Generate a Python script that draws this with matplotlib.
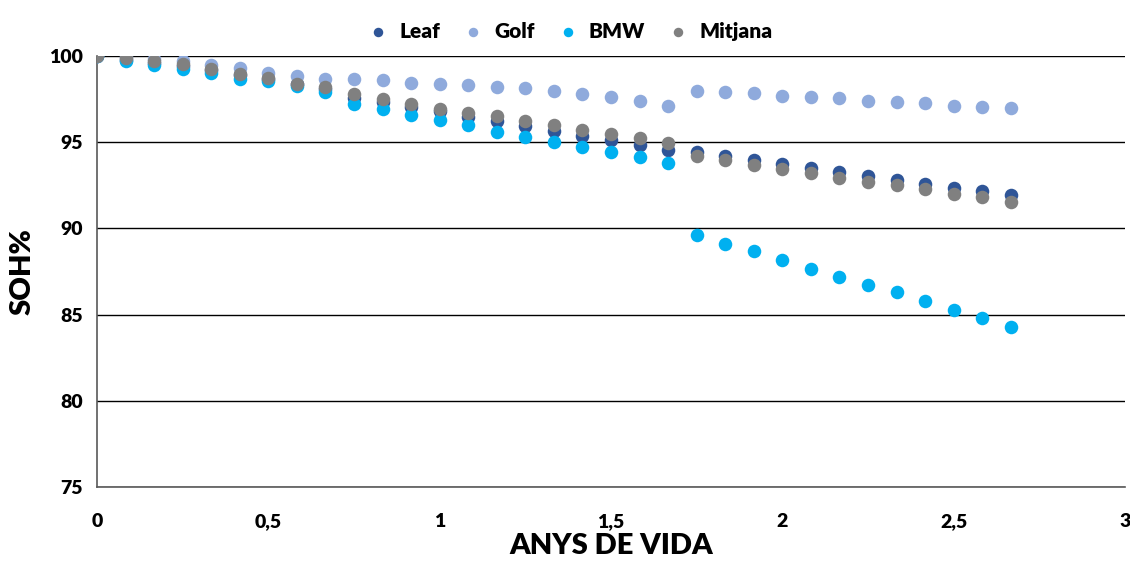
import numpy as np
import matplotlib.pyplot as plt
from matplotlib.ticker import FuncFormatter

# mesos 0..32 -> anys
mesos = np.arange(33)
anys = mesos / 12

leaf = [100, 99.80, 99.62, 99.42, 99.17, 98.88, 98.68, 98.36, 98.12, 97.56,
        97.35, 97.06, 96.81, 96.48, 96.23, 95.94, 95.65, 95.38, 95.13, 94.84,
        94.55, 94.41, 94.18, 93.97, 93.76, 93.50, 93.27, 93.04, 92.80, 92.60,
        92.36, 92.15, 91.94]
golf = [100, 99.95, 99.83, 99.73, 99.48, 99.29, 99.03, 98.86, 98.65, 98.67,
        98.59, 98.45, 98.38, 98.30, 98.22, 98.14, 97.99, 97.78, 97.64, 97.41,
        97.12, 97.99, 97.91, 97.85, 97.70, 97.62, 97.55, 97.41, 97.33, 97.26,
        97.12, 97.04, 96.97]
bmw = [100, 99.73, 99.48, 99.23, 99.03, 98.70, 98.53, 98.27, 97.93, 97.25,
       96.94, 96.58, 96.29, 95.98, 95.60, 95.30, 95.00, 94.70, 94.41, 94.12,
       93.78, 89.63, 89.11, 88.67, 88.15, 87.63, 87.18, 86.73, 86.30, 85.77,
       85.25, 84.80, 84.28]
mitjana = [100, 99.87, 99.71, 99.52, 99.26, 98.97, 98.76, 98.41, 98.22, 97.79,
           97.49, 97.20, 96.96, 96.73, 96.52, 96.23, 96.00, 95.71, 95.48, 95.24,
           94.95, 94.20, 94.00, 93.70, 93.45, 93.23, 92.94, 92.71, 92.50, 92.27,
           91.98, 91.82, 91.51]

series = [('Leaf', leaf, '#2F5597'), ('Golf', golf, '#8FAADC'),
          ('BMW', bmw, '#00B0F0'), ('Mitjana', mitjana, '#808080')]

plt.rcParams['font.family'] = ['Lato', 'DejaVu Sans']
plt.rcParams['font.weight'] = 'heavy'

fig = plt.figure(figsize=(11.3, 5.61), dpi=100)
ax = fig.add_axes([0.0858, 0.1319, 0.9098, 0.768])

for nom, vals, col in series:
    ax.scatter(anys, vals, s=95, color=col, label=nom, linewidths=0, zorder=3)

ax.set_xlim(0, 3)
ax.set_ylim(75, 100)
ax.set_yticks([75, 80, 85, 90, 95, 100])
ax.set_xticks([0, 0.5, 1, 1.5, 2, 2.5, 3])
ax.xaxis.set_major_formatter(FuncFormatter(lambda v, p: ('%g' % v).replace('.', ',')))
ax.grid(axis='y', color='black', linewidth=1.0, zorder=1)
ax.tick_params(axis='y', length=0, labelsize=14, pad=10)
ax.tick_params(axis='x', length=0, labelsize=14, pad=19)
for t in ax.get_xticklabels() + ax.get_yticklabels():
    t.set_fontweight('heavy')

for s in ['top', 'right']:
    ax.spines[s].set_visible(False)
ax.spines['left'].set_color('#595959')
ax.spines['bottom'].set_color('#595959')
ax.spines['left'].set_linewidth(1.2)
ax.spines['bottom'].set_linewidth(1.2)

ax.set_ylabel('SOH%', fontsize=21, fontweight='heavy', labelpad=10)
ax.set_xlabel('ANYS DE VIDA', fontsize=21, fontweight='heavy', labelpad=2)

fig.legend(loc='upper center', bbox_to_anchor=(0.5, 0.995), ncol=4, frameon=False,
           handletextpad=0.0, columnspacing=0.6, markerscale=0.7,
           prop={'weight': 'heavy', 'size': 15})

fig.savefig('out.png', dpi=100)
